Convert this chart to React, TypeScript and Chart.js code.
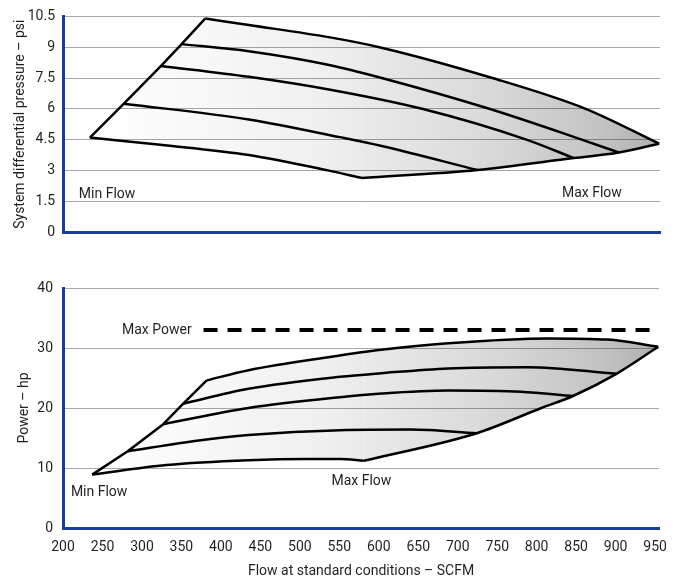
import React, { useEffect, useRef } from "react";
import { Chart, registerables } from "chart.js";

Chart.register(...registerables);

// ---------- style constants ----------
const FONT_FAMILY = "Roboto, 'Liberation Sans', sans-serif";
const FONT_SIZE = 14;
const TEXT_COLOR = "#231f20";
const AXIS_BLUE = "#1a3c9c";
const GRID_COLOR = "#a8a8a8";

// ---------- shared x axis ----------
const X_MIN = 200;
const X_MAX = 955;
const X_TICKS = [200, 250, 300, 350, 400, 450, 500, 550, 600, 650, 700, 750, 800, 850, 900, 950];
const X_TITLE = "Flow at standard conditions – SCFM";

// ---------- top chart: pressure ----------
const PSI_TICKS = [0, 1.5, 3, 4.5, 6, 7.5, 9, 10.5];
const PSI_TITLE = "System differential pressure – psi";

// left (minimum flow) boundary
const P_LEFT_FLOW = [234, 277, 324, 350, 380];
const P_LEFT_PSI = [4.6, 6.25, 8.09, 9.15, 10.4];

// top operating curve
const P_TOP_FLOW = [380, 435, 536, 600, 743, 861, 954];
const P_TOP_PSI = [10.4, 10.08, 9.49, 9.0, 7.5, 6.0, 4.3];

const P_C2_FLOW = [350, 435, 538, 603, 739, 856, 903];
const P_C2_PSI = [9.15, 8.8, 8.12, 7.5, 6.0, 4.5, 3.87];

const P_C3_FLOW = [324, 435, 538, 654, 786, 846];
const P_C3_PSI = [8.09, 7.56, 6.93, 6.0, 4.5, 3.6];

const P_C4_FLOW = [277, 435, 550, 603, 724];
const P_C4_PSI = [6.25, 5.48, 4.62, 4.19, 3.02];

// bottom operating curve
const P_BOT_FLOW = [234, 323, 435, 535, 578];
const P_BOT_PSI = [4.6, 4.25, 3.75, 3.0, 2.63];

// right (maximum flow) boundary
const P_MAX_FLOW = [578, 724, 846, 903, 954];
const P_MAX_PSI = [2.63, 3.02, 3.6, 3.87, 4.3];

const P_LABELS = [
  { text: "Min Flow", x: 220, y: 1.83, align: "left" },
  { text: "Max Flow", x: 831, y: 1.88, align: "left" },
];

// ---------- bottom chart: power ----------
const HP_TICKS = [0, 10, 20, 30, 40];
const HP_TITLE = "Power – hp";

const H_LEFT_FLOW = [237, 282, 327, 352, 382];
const H_LEFT_HP = [8.9, 12.8, 17.3, 20.7, 24.6];

const H_TOP_FLOW = [382, 435, 538, 603, 688, 815, 890, 954];
const H_TOP_HP = [24.6, 26.3, 28.5, 29.7, 30.8, 31.6, 31.4, 30.2];

const H_C2_FLOW = [352, 435, 551, 603, 688, 789, 901];
const H_C2_HP = [20.7, 23.2, 25.2, 25.8, 26.6, 26.8, 25.7];

const H_C3_FLOW = [327, 435, 551, 603, 688, 780, 846];
const H_C3_HP = [17.3, 20.0, 21.8, 22.4, 22.9, 22.7, 22.0];

const H_C4_FLOW = [282, 372, 435, 551, 640, 724];
const H_C4_HP = [12.8, 14.6, 15.5, 16.3, 16.4, 15.8];

const H_BOT_FLOW = [237, 331, 435, 510, 551, 581];
const H_BOT_HP = [8.9, 10.5, 11.3, 11.5, 11.5, 11.2];

const H_MAX_FLOW = [581, 724, 806, 846, 901, 954];
const H_MAX_HP = [11.2, 15.8, 20.0, 22.0, 25.7, 30.2];

const MAX_POWER_FLOW = [378, 955];
const MAX_POWER_HP = [33, 33];

const H_LABELS = [
  { text: "Min Flow", x: 210, y: 5.9, align: "left" },
  { text: "Max Flow", x: 540, y: 7.7, align: "left" },
  { text: "Max Power", x: 363, y: 32.9, align: "right" },
];

// shading extent
const SHADE_FROM = 234;
const SHADE_TO = 954;

// ---------- helpers ----------
const pts = (xs: number[], ys: number[]) => xs.map((x, i) => ({ x, y: ys[i] }));
const font = { family: FONT_FAMILY, size: FONT_SIZE };

function shade(ctx: any) {
  const chart = ctx.chart;
  const { chartArea, scales } = chart;
  if (!chartArea || !scales.x) return "rgba(0,0,0,0.1)";
  const x0 = scales.x.getPixelForValue(SHADE_FROM);
  const x1 = scales.x.getPixelForValue(SHADE_TO);
  const g = chart.ctx.createLinearGradient(x0, 0, x1, 0);
  g.addColorStop(0, "rgba(0,0,0,0)");
  g.addColorStop(0.4, "rgba(0,0,0,0.06)");
  g.addColorStop(0.7, "rgba(0,0,0,0.15)");
  g.addColorStop(0.9, "rgba(0,0,0,0.235)");
  g.addColorStop(1, "rgba(0,0,0,0.31)");
  return g;
}

function makeLabelPlugin(items: { text: string; x: number; y: number; align: string }[]) {
  return {
    id: "textLabels",
    afterDatasetsDraw(chart: any) {
      const { ctx, scales } = chart;
      ctx.save();
      ctx.font = `${FONT_SIZE}px ${FONT_FAMILY}`;
      ctx.fillStyle = TEXT_COLOR;
      ctx.textBaseline = "middle";
      for (const it of items) {
        ctx.textAlign = it.align as CanvasTextAlign;
        ctx.fillText(it.text, scales.x.getPixelForValue(it.x), scales.y.getPixelForValue(it.y));
      }
      ctx.restore();
    },
  };
}

function curve(xs: number[], ys: number[], extra: any = {}) {
  return {
    data: pts(xs, ys),
    cubicInterpolationMode: "monotone",
    fill: false,
    borderColor: "#000",
    borderWidth: 2.5,
    pointRadius: 0,
    ...extra,
  };
}

const straight = { cubicInterpolationMode: "default", tension: 0 };

// dataset order: 0 left boundary, 1 top curve, 2 bottom curve, 3 max-flow boundary, then inner curves
function envelope(
  left: [number[], number[]],
  top: [number[], number[]],
  bot: [number[], number[]],
  max: [number[], number[]]
) {
  return [
    curve(left[0], left[1], { ...straight, fill: { target: 2 }, backgroundColor: shade }),
    curve(top[0], top[1], { fill: { target: 3 }, backgroundColor: shade }),
    curve(bot[0], bot[1], { fill: { target: 1 }, backgroundColor: shade }),
    curve(max[0], max[1]),
  ];
}

function baseOptions(padding: any) {
  return {
    animation: false,
    responsive: false,
    events: [],
    layout: { padding },
    plugins: {
      legend: { display: false },
      tooltip: { enabled: false },
      filler: { drawTime: "beforeDatasetsDraw" },
    },
    elements: { point: { radius: 0 }, line: { borderJoinStyle: "round" } },
  };
}

function topConfig(): any {
  return {
    type: "line",
    data: {
      datasets: [
        ...envelope([P_LEFT_FLOW, P_LEFT_PSI], [P_TOP_FLOW, P_TOP_PSI], [P_BOT_FLOW, P_BOT_PSI], [P_MAX_FLOW, P_MAX_PSI]),
        curve(P_C2_FLOW, P_C2_PSI),
        curve(P_C3_FLOW, P_C3_PSI),
        curve(P_C4_FLOW, P_C4_PSI),
      ],
    },
    options: {
      ...baseOptions({ top: 14, right: 18, bottom: 352, left: 0 }),
      scales: {
        x: {
          type: "linear",
          min: X_MIN,
          max: X_MAX,
          afterBuildTicks: (s: any) => { s.ticks = X_TICKS.map((v) => ({ value: v })); },
          afterFit: (s: any) => { s.height = 0; },
          grid: { display: false },
          border: { display: true, color: AXIS_BLUE, width: 3 },
          ticks: { display: false },
        },
        y: {
          type: "linear",
          min: 0,
          max: 10.5,
          afterBuildTicks: (s: any) => { s.ticks = PSI_TICKS.map((v) => ({ value: v })); },
          afterFit: (s: any) => { s.width = 63; },
          grid: { color: GRID_COLOR, lineWidth: 1, drawTicks: false },
          border: { display: true, color: AXIS_BLUE, width: 3 },
          ticks: { padding: 8, font, color: TEXT_COLOR, callback: (v: any) => String(v) },
          title: { display: true, text: PSI_TITLE, font, color: TEXT_COLOR, padding: { top: 12, bottom: 0 } },
        },
      },
    },
    plugins: [makeLabelPlugin(P_LABELS)],
  };
}

function bottomConfig(): any {
  return {
    type: "line",
    data: {
      datasets: [
        ...envelope([H_LEFT_FLOW, H_LEFT_HP], [H_TOP_FLOW, H_TOP_HP], [H_BOT_FLOW, H_BOT_HP], [H_MAX_FLOW, H_MAX_HP]),
        curve(H_C2_FLOW, H_C2_HP),
        curve(H_C3_FLOW, H_C3_HP),
        curve(H_C4_FLOW, H_C4_HP),
        curve(MAX_POWER_FLOW, MAX_POWER_HP, { ...straight, borderWidth: 4, borderDash: [14, 10] }),
      ],
    },
    options: {
      ...baseOptions({ top: 288, right: 18, bottom: 0, left: 0 }),
      scales: {
        x: {
          type: "linear",
          min: X_MIN,
          max: X_MAX,
          afterBuildTicks: (s: any) => { s.ticks = X_TICKS.map((v) => ({ value: v })); },
          afterFit: (s: any) => { s.height = 56; },
          grid: { display: false, drawTicks: false },
          border: { display: true, color: AXIS_BLUE, width: 3 },
          ticks: { padding: 11, font, color: TEXT_COLOR, maxRotation: 0, autoSkip: false, callback: (v: any) => String(v) },
          title: { display: true, text: X_TITLE, font, color: TEXT_COLOR, padding: { top: 0, bottom: 4 } },
        },
        y: {
          type: "linear",
          min: 0,
          max: 40,
          afterBuildTicks: (s: any) => { s.ticks = HP_TICKS.map((v) => ({ value: v })); },
          afterFit: (s: any) => { s.width = 63; },
          grid: { color: GRID_COLOR, lineWidth: 1, drawTicks: false },
          border: { display: true, color: AXIS_BLUE, width: 3 },
          ticks: { padding: 10, font, color: TEXT_COLOR, callback: (v: any) => String(v) },
          title: { display: true, text: HP_TITLE, font, color: TEXT_COLOR, padding: { top: 16, bottom: 0 } },
        },
      },
    },
    plugins: [makeLabelPlugin(H_LABELS)],
  };
}

const W = 678;
const H = 584;

export default function App() {
  const topRef = useRef<HTMLCanvasElement | null>(null);
  const botRef = useRef<HTMLCanvasElement | null>(null);

  useEffect(() => {
    const charts: Chart[] = [];
    if (topRef.current) charts.push(new Chart(topRef.current, topConfig()));
    if (botRef.current) charts.push(new Chart(botRef.current, bottomConfig()));
    return () => charts.forEach((c) => c.destroy());
  }, []);

  const canvasStyle: React.CSSProperties = {
    position: "absolute",
    left: 0,
    top: 0,
    width: W + "px",
    height: H + "px",
  };

  return (
    <div style={{ position: "fixed", left: 0, top: 0, width: W, height: H, background: "#fff" }}>
      <canvas ref={topRef} width={W} height={H} style={canvasStyle} />
      <canvas ref={botRef} width={W} height={H} style={canvasStyle} />
    </div>
  );
}
